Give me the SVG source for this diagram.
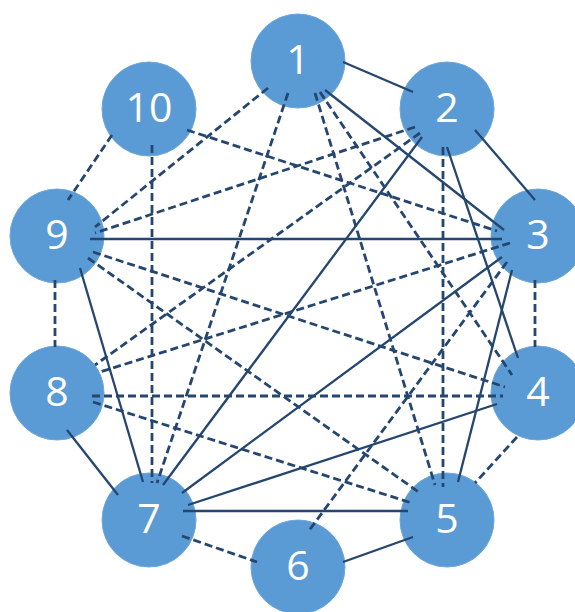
<svg xmlns="http://www.w3.org/2000/svg" width="575" height="612" viewBox="0 0 575 612">
<style>
.n circle{fill:#5B9BD5;stroke:#6EA7DA;stroke-width:1}
.n text{fill:#ffffff;font-family:"Open Sans","Liberation Sans",sans-serif;font-size:41px;text-anchor:middle}
.e line{stroke:#24466F;stroke-width:2.3;fill:none}
.e line.d{stroke-dasharray:8 4;stroke-width:2.8}
</style>
<rect width="575" height="612" fill="#ffffff"/>
<g id="node1" class="n"><circle cx="298" cy="61" r="47"/><text x="298" y="74">1</text></g>
<g id="node2" class="n"><circle cx="447" cy="109" r="47"/><text x="447" y="122">2</text></g>
<g id="node3" class="n"><circle cx="538" cy="236" r="47"/><text x="538" y="249">3</text></g>
<g id="node4" class="n"><circle cx="538" cy="393" r="47"/><text x="538" y="406">4</text></g>
<g id="node5" class="n"><circle cx="447" cy="520" r="47"/><text x="447" y="533">5</text></g>
<g id="node6" class="n"><circle cx="298" cy="567" r="47"/><text x="298" y="580">6</text></g>
<g id="node7" class="n"><circle cx="149" cy="520" r="47"/><text x="149" y="533">7</text></g>
<g id="node8" class="n"><circle cx="57" cy="393" r="47"/><text x="57" y="406">8</text></g>
<g id="node9" class="n"><circle cx="57" cy="236" r="47"/><text x="57" y="249">9</text></g>
<g id="node10" class="n"><circle cx="149" cy="109" r="47"/><text x="149" y="122">10</text></g>
<g id="connectors" class="e">
<line x1="343" y1="62" x2="413" y2="92"/>
<line x1="325" y1="90" x2="504" y2="230"/>
<line x1="475" y1="130" x2="535" y2="200"/>
<line x1="447" y1="147" x2="518" y2="358"/>
<line x1="422" y1="137" x2="163" y2="485"/>
<line x1="90" y1="239" x2="502" y2="239"/>
<line x1="502" y1="257" x2="182" y2="493"/>
<line x1="512" y1="270" x2="458" y2="482"/>
<line x1="497" y1="404" x2="188" y2="505"/>
<line x1="183" y1="511" x2="408" y2="511"/>
<line x1="343" y1="562" x2="413" y2="537"/>
<line x1="67" y1="430" x2="118" y2="495"/>
<line x1="80" y1="268" x2="143" y2="482"/>
<line class="d" x1="320" y1="92" x2="512" y2="375"/>
<line class="d" x1="315" y1="93" x2="435" y2="485"/>
<line class="d" x1="288" y1="93" x2="157" y2="483"/>
<line class="d" x1="268" y1="88" x2="95" y2="227"/>
<line class="d" x1="443" y1="147" x2="443" y2="487"/>
<line class="d" x1="420" y1="133" x2="95" y2="365"/>
<line class="d" x1="415" y1="127" x2="95" y2="233"/>
<line class="d" x1="535" y1="280" x2="535" y2="347"/>
<line class="d" x1="507" y1="262" x2="308" y2="532"/>
<line class="d" x1="510" y1="243" x2="100" y2="372"/>
<line class="d" x1="187" y1="130" x2="497" y2="231"/>
<line class="d" x1="517" y1="437" x2="475" y2="483"/>
<line class="d" x1="92" y1="396" x2="503" y2="396"/>
<line class="d" x1="93" y1="252" x2="505" y2="387"/>
<line class="d" x1="88" y1="258" x2="420" y2="493"/>
<line class="d" x1="93" y1="402" x2="412" y2="503"/>
<line class="d" x1="182" y1="536" x2="257" y2="562"/>
<line class="d" x1="152" y1="145" x2="152" y2="483"/>
<line class="d" x1="55" y1="280" x2="55" y2="347"/>
<line class="d" x1="112" y1="135" x2="68" y2="200"/>
</g>
</svg>
